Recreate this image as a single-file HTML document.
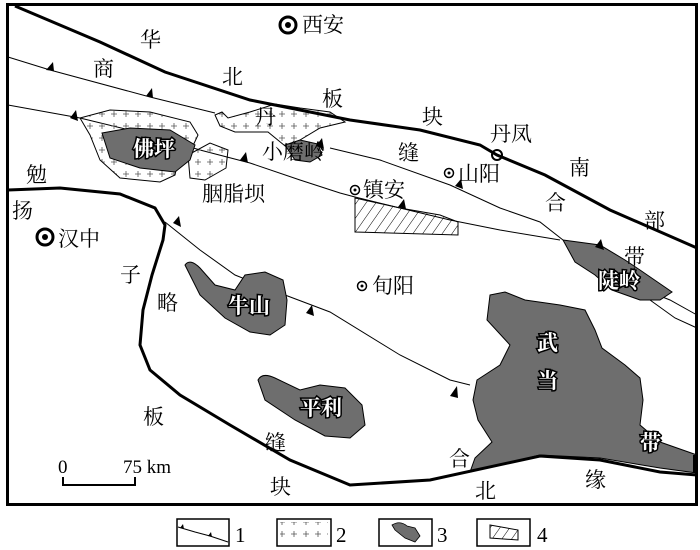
<!DOCTYPE html>
<html><head><meta charset="utf-8"><style>
html,body{margin:0;padding:0;background:#fff;width:700px;height:550px;overflow:hidden}
text{font-family:"Liberation Serif","Noto Serif CJK SC",serif;font-size:21px;fill:#000}
.w{fill:#fff;stroke:#000;stroke-width:3;paint-order:stroke;font-weight:bold}
.s{font-size:19px}
</style></head><body>
<svg width="700" height="550" viewBox="0 0 700 550" xmlns="http://www.w3.org/2000/svg">
<defs>
<pattern id="plus" width="12" height="12" patternUnits="userSpaceOnUse">
<path d="M3 6h6M6 3v6" stroke="#555" stroke-width="0.8"/></pattern>
<pattern id="hat" width="8" height="8" patternUnits="userSpaceOnUse" patternTransform="rotate(35)">
<line x1="0" y1="0" x2="0" y2="8" stroke="#000" stroke-width="1"/></pattern>
</defs>
<rect x="7.5" y="4.5" width="689" height="500" fill="#fff" stroke="#000" stroke-width="3"/>
<g fill="none" stroke="#000" stroke-width="1">
<polyline points="8,57 50,70 150,97 215,113"/>
<polyline points="8,105 80,118 150,135 200,150 250,163 300,180 340,193 355,197 400,208 450,220 500,230 560,240"/>
<polyline points="330,148 380,160 450,185 500,208 540,222 563,240"/>
<polyline points="645,290 670,300 697,315"/>
<polyline points="650,300 675,318 697,328"/>
<polyline points="165,222 200,250 235,275 285,295 330,312 400,355 450,380 470,385"/>
</g>
<path d="M80,118 L110,110 150,112 190,122 198,135 190,152 178,160 175,175 160,182 120,178 100,160 90,135 Z" fill="url(#plus)" stroke="#000" stroke-width="1"/>
<path d="M188,155 L210,143 228,150 226,168 205,180 190,178 Z" fill="url(#plus)" stroke="#000" stroke-width="1"/>
<path d="M215,115 L222,112 228,118 250,112 275,104 300,108 330,112 345,122 320,128 300,140 290,150 268,132 235,132 220,126 Z" fill="url(#plus)" stroke="#000" stroke-width="1"/>
<g fill="#6e6e6e" stroke="#000" stroke-width="1">
<path d="M102,133 L130,128 170,130 195,145 190,160 175,172 140,168 110,158 Z"/>
<path d="M285,145 L300,140 318,144 322,155 310,162 295,160 Z"/>
<path d="M185,265 Q190,258 200,268 L215,285 235,290 245,275 265,272 283,280 287,300 285,325 270,335 250,332 225,318 200,295 Z"/>
<path d="M258,380 Q262,372 275,378 L300,390 320,385 345,388 362,405 365,425 350,438 325,436 295,420 265,400 Z"/>
<path d="M563,240 L600,245 625,260 640,270 672,292 660,300 640,300 612,290 595,275 575,262 Z"/>
<path d="M490,295 L505,292 525,300 560,305 585,310 595,330 602,348 625,365 640,378 643,400 640,425 660,442 697,455 697,473 660,468 600,458 540,455 470,472 475,458 492,442 478,420 473,400 477,380 500,365 510,345 487,320 Z"/>
</g>
<polygon points="355,198 400,208 440,215 458,222 458,235 355,232" fill="url(#hat)" stroke="#000" stroke-width="1"/>
<g fill="none" stroke="#000" stroke-width="3">
<polyline points="15,6 100,42 165,72 250,100 350,120 420,130 480,145 497,155 545,175 610,210 697,248"/>
<polyline points="8,190 60,188 120,194 155,208 165,225 163,240 152,275 143,310 140,345 150,370 180,395 230,425 290,460 350,485 430,480 540,456 600,460 660,472 697,475"/>
</g>
<line x1="695" y1="455" x2="695" y2="473" stroke="#000" stroke-width="4"/>
<g fill="#000">
<path d="M46,70 L53,62 54,71Z"/><path d="M146,96 L152,88 153,98Z"/><path d="M70,118 L76,110 78,121Z"/>
<path d="M240,160 L246,152 248,163Z"/><path d="M173,223 L179,216 181,227Z"/><path d="M398,207 L404,199 406,209Z"/>
<path d="M455,186 L461,179 463,189Z"/><path d="M595,247 L601,239 604,250Z"/><path d="M306,313 L312,305 314,316Z"/>
<path d="M450,396 L457,386 458,398Z"/><path d="M316,146 L322,138 324,149Z"/>
</g>
<g fill="none" stroke="#000">
<circle cx="288" cy="25" r="8" stroke-width="3"/><circle cx="45" cy="237" r="8" stroke-width="3"/>
<circle cx="449" cy="173" r="4.5" stroke-width="1.5"/><circle cx="355" cy="190" r="4.5" stroke-width="1.5"/>
<circle cx="362" cy="286" r="4.5" stroke-width="1.5"/><circle cx="497" cy="155" r="5" stroke-width="2"/>
</g>
<g fill="#000"><circle cx="288" cy="25" r="3"/><circle cx="45" cy="237" r="3"/><circle cx="449" cy="173" r="1.5"/><circle cx="355" cy="190" r="1.5"/><circle cx="362" cy="286" r="1.5"/></g>
<text x="302" y="32">西安</text><text x="140" y="47">华</text><text x="93" y="76">商</text>
<text x="222" y="84">北</text><text x="322" y="106">板</text><text x="422" y="124">块</text>
<text x="490" y="141">丹凤</text><text x="569" y="175">南</text><text x="644" y="228">部</text>
<text x="624" y="264">带</text><text x="545" y="210">合</text><text x="398" y="160">缝</text>
<text x="458" y="181">山阳</text><text x="363" y="197">镇安</text><text x="255" y="124">丹</text>
<text x="262" y="159">小磨岭</text><text x="202" y="201">胭脂坝</text><text x="26" y="182">勉</text>
<text x="12" y="218">扬</text><text x="58" y="246">汉中</text><text x="120" y="282">子</text>
<text x="157" y="310">略</text><text x="372" y="293">旬阳</text><text x="143" y="424">板</text>
<text x="265" y="450">缝</text><text x="270" y="494">块</text><text x="449" y="466">合</text>
<text x="475" y="498">北</text><text x="585" y="487">缘</text>
<text class="w" x="133" y="156">佛坪</text><text class="w" x="228" y="313">牛山</text>
<text class="w" x="300" y="415">平利</text><text class="w" x="598" y="288">陡岭</text>
<text class="w" x="537" y="350">武</text><text class="w" x="537" y="388">当</text>
<text class="w" x="640" y="450">带</text>
<text class="s" x="58" y="473">0</text><text class="s" x="123" y="473">75 km</text>
<polyline points="63,477 63,485 135,485 135,477" fill="none" stroke="#000" stroke-width="2"/>
<g fill="none" stroke="#000" stroke-width="1.5">
<rect x="177" y="519" width="52" height="27"/><rect x="277" y="519" width="54" height="27"/>
<rect x="379" y="519" width="53" height="27"/><rect x="477" y="519" width="53" height="27"/>
</g>
<polyline points="178,527 195,532 210,536 228,542" fill="none" stroke="#000" stroke-width="1"/>
<path d="M180,528 l3,-4 1,5Z M208,536 l3,-4 1,5Z"/>
<rect x="280" y="522" width="48" height="21" fill="url(#plus)"/>
<path d="M392,525 Q400,520 407,526 L415,528 420,536 415,542 405,538 395,530Z" fill="#6e6e6e" stroke="#000" stroke-width="0.8"/>
<polygon points="490,525 518,530 518,540 490,538" fill="url(#hat)" stroke="#000" stroke-width="1"/>
<text x="235" y="542">1</text><text x="336" y="542">2</text><text x="437" y="542">3</text><text x="537" y="542">4</text>
</svg>
</body></html>
